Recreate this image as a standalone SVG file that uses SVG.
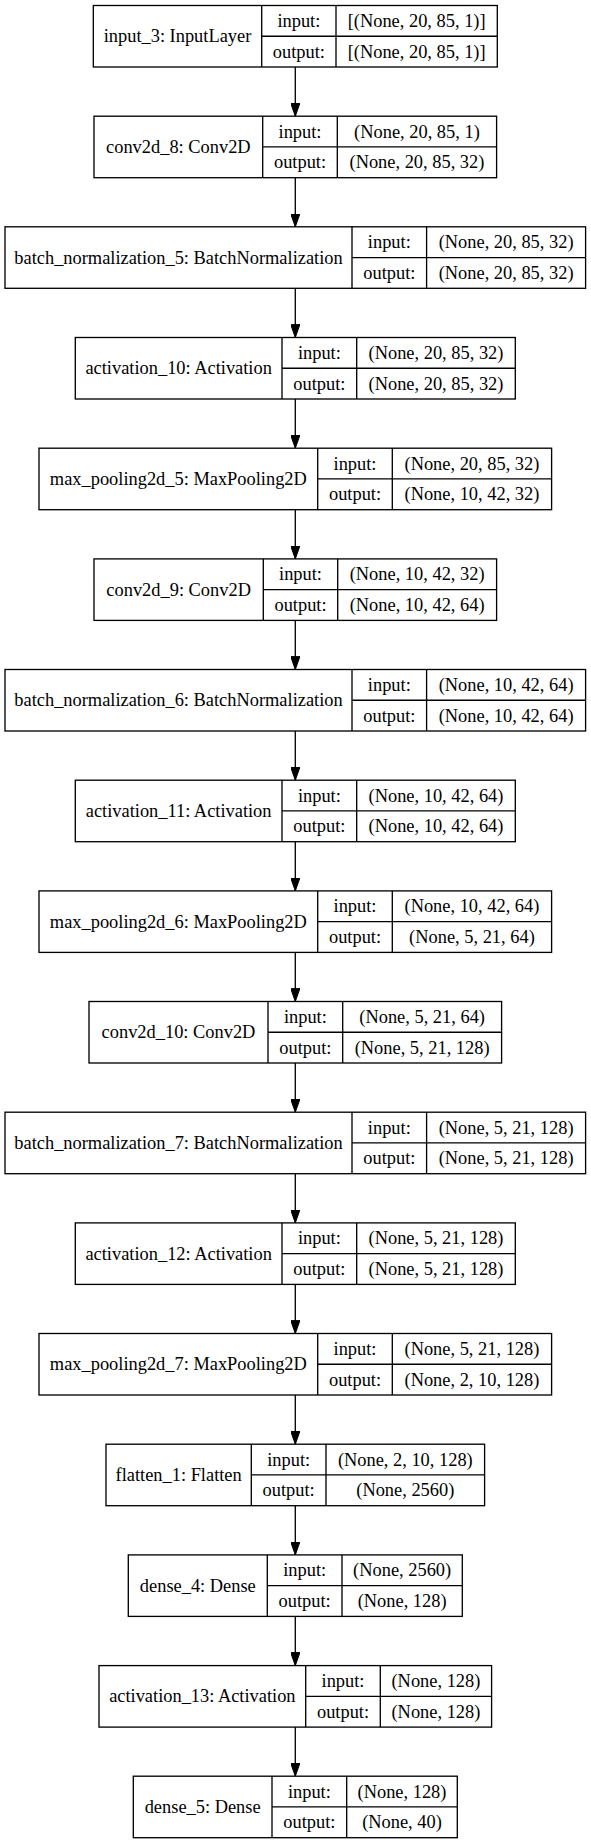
<svg xmlns="http://www.w3.org/2000/svg" width="591" height="1844" viewBox="0 0 591 1844">
<defs>
<style>
.b{fill:#fff;stroke:#000;stroke-width:1.33}
.l{stroke:#000;stroke-width:1.33;fill:none}
.t{font-family:"Liberation Serif","Times New Roman",serif;font-size:18.4px;text-anchor:middle;fill:#000}
.e{stroke:#000;stroke-width:1.33;fill:none;marker-end:url(#ah)}
</style>
<marker id="ah" markerUnits="userSpaceOnUse" viewBox="0 0 13.3 9.4" refX="13.3" refY="4.7" markerWidth="13.3" markerHeight="9.4" orient="auto">
<path d="M0,0 L13.3,4.7 L0,9.4 z" fill="#000" stroke="#000" stroke-width="1"/>
</marker>
</defs>
<rect width="591" height="1844" fill="#fff"/>
<g id="connectors">
<path class="e" d="M295.3,67 V116.2"/>
<path class="e" d="M295.3,177.7 V226.8"/>
<path class="e" d="M295.3,288.3 V337.5"/>
<path class="e" d="M295.3,399 V448.2"/>
<path class="e" d="M295.3,509.7 V558.9"/>
<path class="e" d="M295.3,620.4 V669.5"/>
<path class="e" d="M295.3,731 V780.2"/>
<path class="e" d="M295.3,841.7 V890.9"/>
<path class="e" d="M295.3,952.4 V1001.5"/>
<path class="e" d="M295.3,1063 V1112.2"/>
<path class="e" d="M295.3,1173.7 V1222.9"/>
<path class="e" d="M295.3,1284.4 V1333.5"/>
<path class="e" d="M295.3,1395 V1444.2"/>
<path class="e" d="M295.3,1505.7 V1554.9"/>
<path class="e" d="M295.3,1616.4 V1665.6"/>
<path class="e" d="M295.3,1727.1 V1776.2"/>
</g>
<g id="input_3" transform="translate(0,5.5)">
<rect class="b" x="93.3" y="0" width="404" height="61.5"/>
<path class="l" d="M261.7,0 V61.5 M336,0 V61.5 M261.7,30.75 H497.3"/>
<text class="t" x="177.5" y="36.75">input_3: InputLayer</text>
<text class="t" x="298.85" y="21.4">input:</text>
<text class="t" x="298.85" y="52.1">output:</text>
<text class="t" x="416.65" y="21.4">[(None, 20, 85, 1)]</text>
<text class="t" x="416.65" y="52.1">[(None, 20, 85, 1)]</text>
</g>
<g id="conv2d_8" transform="translate(0,116.2)">
<rect class="b" x="94" y="0" width="402.6" height="61.5"/>
<path class="l" d="M262.7,0 V61.5 M337.3,0 V61.5 M262.7,30.75 H496.6"/>
<text class="t" x="178.35" y="36.75">conv2d_8: Conv2D</text>
<text class="t" x="300" y="21.4">input:</text>
<text class="t" x="300" y="52.1">output:</text>
<text class="t" x="416.95" y="21.4">(None, 20, 85, 1)</text>
<text class="t" x="416.95" y="52.1">(None, 20, 85, 32)</text>
</g>
<g id="batch_normalization_5" transform="translate(0,226.8)">
<rect class="b" x="5" y="0" width="580.6" height="61.5"/>
<path class="l" d="M352,0 V61.5 M426.6,0 V61.5 M352,30.75 H585.6"/>
<text class="t" x="178.5" y="36.75">batch_normalization_5: BatchNormalization</text>
<text class="t" x="389.3" y="21.4">input:</text>
<text class="t" x="389.3" y="52.1">output:</text>
<text class="t" x="506.1" y="21.4">(None, 20, 85, 32)</text>
<text class="t" x="506.1" y="52.1">(None, 20, 85, 32)</text>
</g>
<g id="activation_10" transform="translate(0,337.5)">
<rect class="b" x="75.3" y="0" width="440" height="61.5"/>
<path class="l" d="M282,0 V61.5 M356.7,0 V61.5 M282,30.75 H515.3"/>
<text class="t" x="178.65" y="36.75">activation_10: Activation</text>
<text class="t" x="319.35" y="21.4">input:</text>
<text class="t" x="319.35" y="52.1">output:</text>
<text class="t" x="436" y="21.4">(None, 20, 85, 32)</text>
<text class="t" x="436" y="52.1">(None, 20, 85, 32)</text>
</g>
<g id="max_pooling2d_5" transform="translate(0,448.2)">
<rect class="b" x="39" y="0" width="512.6" height="61.5"/>
<path class="l" d="M317.7,0 V61.5 M392.3,0 V61.5 M317.7,30.75 H551.6"/>
<text class="t" x="178.35" y="36.75">max_pooling2d_5: MaxPooling2D</text>
<text class="t" x="355" y="21.4">input:</text>
<text class="t" x="355" y="52.1">output:</text>
<text class="t" x="471.95" y="21.4">(None, 20, 85, 32)</text>
<text class="t" x="471.95" y="52.1">(None, 10, 42, 32)</text>
</g>
<g id="conv2d_9" transform="translate(0,558.9)">
<rect class="b" x="94" y="0" width="402.6" height="61.5"/>
<path class="l" d="M263.3,0 V61.5 M337.7,0 V61.5 M263.3,30.75 H496.6"/>
<text class="t" x="178.65" y="36.75">conv2d_9: Conv2D</text>
<text class="t" x="300.5" y="21.4">input:</text>
<text class="t" x="300.5" y="52.1">output:</text>
<text class="t" x="417.15" y="21.4">(None, 10, 42, 32)</text>
<text class="t" x="417.15" y="52.1">(None, 10, 42, 64)</text>
</g>
<g id="batch_normalization_6" transform="translate(0,669.5)">
<rect class="b" x="5" y="0" width="580.6" height="61.5"/>
<path class="l" d="M352,0 V61.5 M426.6,0 V61.5 M352,30.75 H585.6"/>
<text class="t" x="178.5" y="36.75">batch_normalization_6: BatchNormalization</text>
<text class="t" x="389.3" y="21.4">input:</text>
<text class="t" x="389.3" y="52.1">output:</text>
<text class="t" x="506.1" y="21.4">(None, 10, 42, 64)</text>
<text class="t" x="506.1" y="52.1">(None, 10, 42, 64)</text>
</g>
<g id="activation_11" transform="translate(0,780.2)">
<rect class="b" x="75.3" y="0" width="440" height="61.5"/>
<path class="l" d="M282,0 V61.5 M356.7,0 V61.5 M282,30.75 H515.3"/>
<text class="t" x="178.65" y="36.75">activation_11: Activation</text>
<text class="t" x="319.35" y="21.4">input:</text>
<text class="t" x="319.35" y="52.1">output:</text>
<text class="t" x="436" y="21.4">(None, 10, 42, 64)</text>
<text class="t" x="436" y="52.1">(None, 10, 42, 64)</text>
</g>
<g id="max_pooling2d_6" transform="translate(0,890.9)">
<rect class="b" x="39" y="0" width="512.6" height="61.5"/>
<path class="l" d="M317.7,0 V61.5 M392.3,0 V61.5 M317.7,30.75 H551.6"/>
<text class="t" x="178.35" y="36.75">max_pooling2d_6: MaxPooling2D</text>
<text class="t" x="355" y="21.4">input:</text>
<text class="t" x="355" y="52.1">output:</text>
<text class="t" x="471.95" y="21.4">(None, 10, 42, 64)</text>
<text class="t" x="471.95" y="52.1">(None, 5, 21, 64)</text>
</g>
<g id="conv2d_10" transform="translate(0,1001.5)">
<rect class="b" x="89" y="0" width="412.6" height="61.5"/>
<path class="l" d="M268,0 V61.5 M342.7,0 V61.5 M268,30.75 H501.6"/>
<text class="t" x="178.5" y="36.75">conv2d_10: Conv2D</text>
<text class="t" x="305.35" y="21.4">input:</text>
<text class="t" x="305.35" y="52.1">output:</text>
<text class="t" x="422.15" y="21.4">(None, 5, 21, 64)</text>
<text class="t" x="422.15" y="52.1">(None, 5, 21, 128)</text>
</g>
<g id="batch_normalization_7" transform="translate(0,1112.2)">
<rect class="b" x="5" y="0" width="580.6" height="61.5"/>
<path class="l" d="M352,0 V61.5 M426.6,0 V61.5 M352,30.75 H585.6"/>
<text class="t" x="178.5" y="36.75">batch_normalization_7: BatchNormalization</text>
<text class="t" x="389.3" y="21.4">input:</text>
<text class="t" x="389.3" y="52.1">output:</text>
<text class="t" x="506.1" y="21.4">(None, 5, 21, 128)</text>
<text class="t" x="506.1" y="52.1">(None, 5, 21, 128)</text>
</g>
<g id="activation_12" transform="translate(0,1222.9)">
<rect class="b" x="75.3" y="0" width="440" height="61.5"/>
<path class="l" d="M282,0 V61.5 M356.7,0 V61.5 M282,30.75 H515.3"/>
<text class="t" x="178.65" y="36.75">activation_12: Activation</text>
<text class="t" x="319.35" y="21.4">input:</text>
<text class="t" x="319.35" y="52.1">output:</text>
<text class="t" x="436" y="21.4">(None, 5, 21, 128)</text>
<text class="t" x="436" y="52.1">(None, 5, 21, 128)</text>
</g>
<g id="max_pooling2d_7" transform="translate(0,1333.5)">
<rect class="b" x="39" y="0" width="512.6" height="61.5"/>
<path class="l" d="M317.7,0 V61.5 M392.3,0 V61.5 M317.7,30.75 H551.6"/>
<text class="t" x="178.35" y="36.75">max_pooling2d_7: MaxPooling2D</text>
<text class="t" x="355" y="21.4">input:</text>
<text class="t" x="355" y="52.1">output:</text>
<text class="t" x="471.95" y="21.4">(None, 5, 21, 128)</text>
<text class="t" x="471.95" y="52.1">(None, 2, 10, 128)</text>
</g>
<g id="flatten_1" transform="translate(0,1444.2)">
<rect class="b" x="106" y="0" width="378.6" height="61.5"/>
<path class="l" d="M251.3,0 V61.5 M326,0 V61.5 M251.3,30.75 H484.6"/>
<text class="t" x="178.65" y="36.75">flatten_1: Flatten</text>
<text class="t" x="288.65" y="21.4">input:</text>
<text class="t" x="288.65" y="52.1">output:</text>
<text class="t" x="405.3" y="21.4">(None, 2, 10, 128)</text>
<text class="t" x="405.3" y="52.1">(None, 2560)</text>
</g>
<g id="dense_4" transform="translate(0,1554.9)">
<rect class="b" x="128.3" y="0" width="334" height="61.5"/>
<path class="l" d="M267.3,0 V61.5 M342,0 V61.5 M267.3,30.75 H462.3"/>
<text class="t" x="197.8" y="36.75">dense_4: Dense</text>
<text class="t" x="304.65" y="21.4">input:</text>
<text class="t" x="304.65" y="52.1">output:</text>
<text class="t" x="402.15" y="21.4">(None, 2560)</text>
<text class="t" x="402.15" y="52.1">(None, 128)</text>
</g>
<g id="activation_13" transform="translate(0,1665.6)">
<rect class="b" x="99" y="0" width="392.6" height="61.5"/>
<path class="l" d="M305.7,0 V61.5 M380.3,0 V61.5 M305.7,30.75 H491.6"/>
<text class="t" x="202.35" y="36.75">activation_13: Activation</text>
<text class="t" x="343" y="21.4">input:</text>
<text class="t" x="343" y="52.1">output:</text>
<text class="t" x="435.95" y="21.4">(None, 128)</text>
<text class="t" x="435.95" y="52.1">(None, 128)</text>
</g>
<g id="dense_5" transform="translate(0,1776.2)">
<rect class="b" x="133.3" y="0" width="324" height="61.5"/>
<path class="l" d="M272,0 V61.5 M346.7,0 V61.5 M272,30.75 H457.3"/>
<text class="t" x="202.65" y="36.75">dense_5: Dense</text>
<text class="t" x="309.35" y="21.4">input:</text>
<text class="t" x="309.35" y="52.1">output:</text>
<text class="t" x="402" y="21.4">(None, 128)</text>
<text class="t" x="402" y="52.1">(None, 40)</text>
</g>
</svg>
